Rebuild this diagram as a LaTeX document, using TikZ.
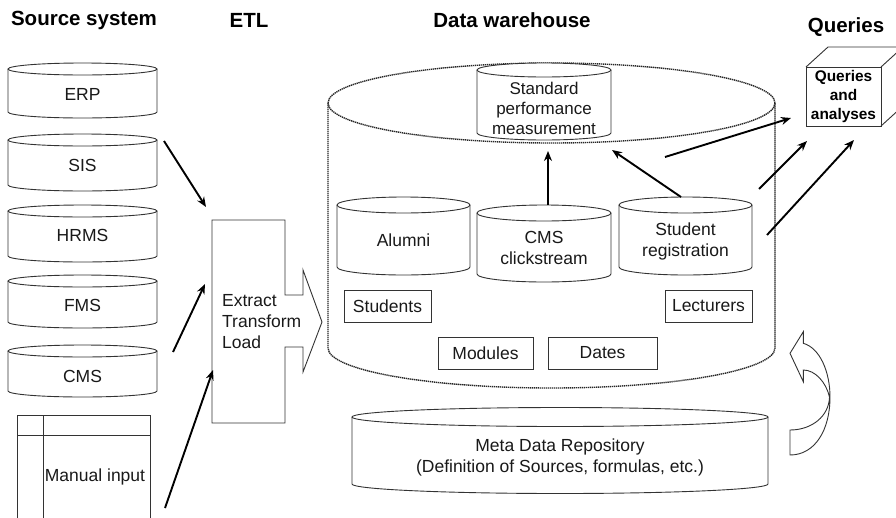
\documentclass[tikz,border=0pt]{standalone}
\usepackage{fontspec}
\setmainfont{Liberation Sans}
\usetikzlibrary{arrows.meta}
\newcommand\dbcyl[6]{% name, left x, right x, top-centre y, bottom-centre y, ry
  \pgfmathsetmacro\cylcx{(#2+#3)/2}%
  \pgfmathsetmacro\cylrx{(#3-#2)/2}%
  \fill[white] (#2,#4) -- (#2,#5) arc[start angle=180,end angle=0,x radius=\cylrx,y radius=#6] -- (#3,#4) -- cycle;
  \draw[shapeline] (#2,#4) -- (#2,#5) arc[start angle=180,end angle=0,x radius=\cylrx,y radius=#6] -- (#3,#4);
  \draw[shapeline,fill=white] (\cylcx,#4) ellipse[x radius=\cylrx,y radius=#6];
  \coordinate (#1) at (\cylcx,{(#4+#5)/2});
}
\begin{document}
\begin{tikzpicture}[x=1pt,y=-1pt,
  shapeline/.style={draw=black!80, line width=0.9pt},
  dwline/.style={draw=black!85, line width=1.4pt, dash pattern=on 1.3pt off 0.7pt},
  flow/.style={draw=black, line width=1.9pt, -{Stealth[length=10pt,width=8pt]}},
  lbl/.style={font=\fontsize{17.5}{21}\selectfont, align=center, inner sep=0pt, text=black!90},
  hdr/.style={font=\fontsize{20.5}{24}\selectfont\bfseries, inner sep=0pt},
  qlbl/.style={font=\fontsize{15.4}{19}\selectfont\bfseries, align=center, inner sep=0pt},
  tbox/.style={shapeline, rectangle, inner sep=0pt, font=\fontsize{17.5}{21}\selectfont, text=black!90}]
\useasboundingbox (0,0) rectangle (896,517);
\clip (0,0) rectangle (896,517);

% headers
\node[hdr] (hsrc) at (84,20) {Source system};
\node[hdr] (hetl) at (249,20) {ETL};
\node[hdr] (hdw) at (512,20) {Data warehouse};
\node[hdr] (hq) at (846,27) {Queries};

% source systems
\dbcyl{cerp}{8}{157}{69}{112}{6}
\node[lbl] (erp) at (82.5,94) {ERP};
\dbcyl{csis}{8}{157}{140}{185}{6}
\node[lbl] (sis) at (82.5,165) {SIS};
\dbcyl{chrms}{8}{157}{211}{256}{6}
\node[lbl] (hrms) at (82.5,235) {HRMS};
\dbcyl{cfms}{8}{157}{281}{322}{6}
\node[lbl] (fms) at (82.5,305) {FMS};
\dbcyl{ccms}{8}{157}{351}{391}{6}
\node[lbl] (cms) at (82.5,376) {CMS};

% manual input
\draw[shapeline] (17,530) -- (17,415) -- (150,415) -- (150,530);
\draw[shapeline] (43,415) -- (43,530);
\draw[shapeline] (17,435) -- (150,435);
\node[lbl] (manual) at (95,477) {Manual input};

% ETL block arrow
\draw[shapeline] (212,220) -- (285,220) -- (285,295) -- (303,295) -- (303,270) -- (322,322)
  -- (303,372) -- (303,347) -- (285,347) -- (285,423) -- (212,423) -- cycle;
\node[lbl, align=left, anchor=west] (etl) at (222,322) {Extract\\Transform\\Load};

% data warehouse (dashed cylinder)
\draw[dwline] (328,103) -- (328,348) arc[start angle=180,end angle=0,x radius=223.5,y radius=40] -- (775,103);
\draw[dwline] (551.5,103) ellipse[x radius=223.5,y radius=40];

\dbcyl{cspm}{477}{611}{70}{133}{7}
\node[lbl, font=\fontsize{17}{20}\selectfont] (spm) at (544,108) {Standard\\performance\\measurement};
\dbcyl{calu}{337}{470}{205}{267}{8}
\node[lbl] (alumni) at (403.5,240) {Alumni};
\dbcyl{cclick}{477}{611}{213}{274}{8}
\node[lbl] (click) at (544,247.5) {CMS\\clickstream};
\dbcyl{creg}{619}{752}{205}{267}{8}
\node[lbl] (reg) at (685.5,241) {Student\\registration};

\node[tbox, minimum width=87, minimum height=32] (students) at (387.5,306) {Students};
\node[tbox, minimum width=87, minimum height=32] (lecturers) at (708.5,306) {Lecturers};
\node[tbox, minimum width=95, minimum height=32] (modules) at (485.5,353) {Modules};
\node[tbox, minimum width=109, minimum height=32] (dates) at (602.5,353) {Dates};

% meta data repository
\dbcyl{cmeta}{352}{768}{417}{484}{9.5}
\node[lbl] (meta) at (560,457.5) {Meta Data Repository\\(Definition of Sources, formulas, etc.)};

% curved hollow arrow
\draw[shapeline] (790,353.3) -- (803.3,331.7) -- (803.3,343.3)
  .. controls (820,348) and (830,372) .. (830,397)
  .. controls (830,430) and (815,455) .. (790,455)
  -- (790,430)
  .. controls (812,430) and (829,416) .. (829.5,397)
  .. controls (826,382) and (815,370) .. (803.3,370)
  -- (803.3,381.7) -- cycle;

% queries cube
\draw[shapeline] (806,67) rectangle (881,126);
\draw[shapeline] (806,67) -- (828,47) -- (903,47) -- (881,67);
\draw[shapeline] (881,126) -- (903,106) -- (903,47);
\node[qlbl] (queries) at (843.5,97) {Queries\\and\\analyses};

% connector end points
\coordinate (sisout) at (164,141);
\coordinate (etlin1) at (206,207);
\coordinate (cmsout) at (173,352);
\coordinate (etlin2) at (205,284);
\coordinate (manout) at (165,508);
\coordinate (etlin3) at (213,370);
\coordinate (clicktop) at (548,205);
\coordinate (spmbot) at (548,151);
\coordinate (regtop) at (681,197);
\coordinate (spmcorner) at (612,150);
\coordinate (dwout1) at (665,157);
\coordinate (qin1) at (791,118);
\coordinate (dwout2) at (759,189);
\coordinate (qin2) at (807,141);
\coordinate (dwout3) at (767,235);
\coordinate (qin3) at (854,140);

\draw[flow] (sisout) -- (etlin1);
\draw[flow] (cmsout) -- (etlin2);
\draw[flow] (manout) -- (etlin3);
\draw[flow] (clicktop) -- (spmbot);
\draw[flow] (regtop) -- (spmcorner);
\draw[flow] (dwout1) -- (qin1);
\draw[flow] (dwout2) -- (qin2);
\draw[flow] (dwout3) -- (qin3);
\end{tikzpicture}
\end{document}
